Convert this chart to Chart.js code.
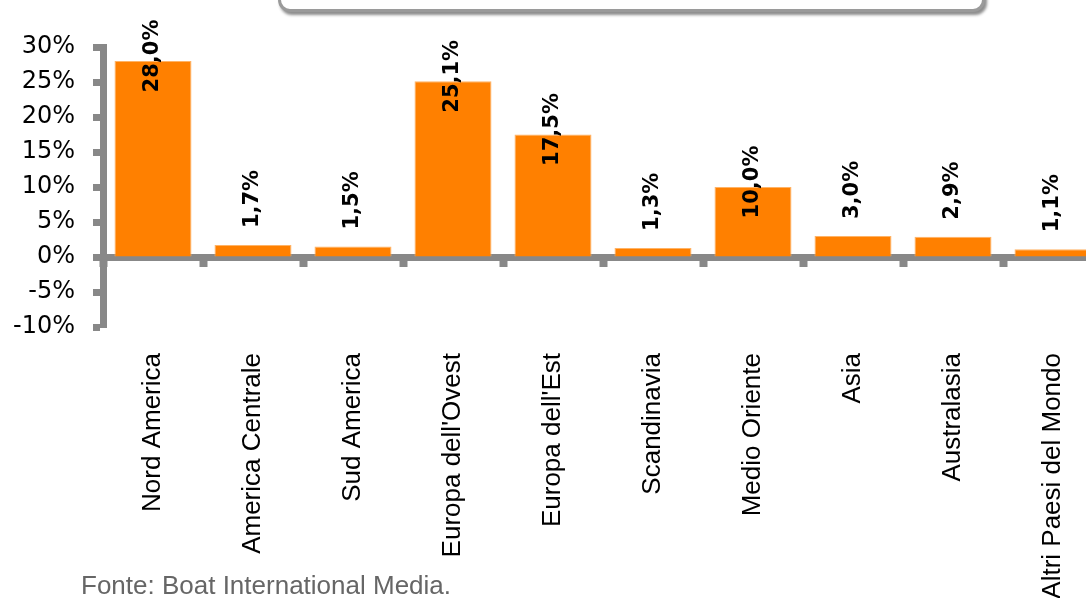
<!DOCTYPE html>
<html lang="it">
<head>
  <meta charset="UTF-8">
  <title>Yacht per area geografica</title>
  <script src="https://cdn.jsdelivr.net/npm/chart.js@4"></script>
  <style>
    html, body { margin: 0; padding: 0; background: #fff; overflow: hidden; }
    .wrap { position: relative; width: 1086px; height: 598px; overflow: hidden; }
    .chart-box { position: absolute; left: 0; top: 0; width: 1110px; height: 598px; }
    .title-box {
      position: absolute; left: 278px; top: -40px; width: 701px; height: 46px;
      border: 3px solid #9a9a9a; border-radius: 12px; background: #fff;
      box-shadow: 2px 3px 3px rgba(0,0,0,0.45); z-index: 2;
    }
    .source {
      position: absolute; left: 81px; top: 570px;
      font: 26px "Liberation Sans", Arial, sans-serif; color: #666;
    }
  </style>
</head>
<body>
  <div class="wrap">
    <div class="chart-box"><canvas id="areaChart"></canvas></div>
    <div class="title-box"></div>
    <div class="source">Fonte: Boat International Media.</div>
  </div>

  <script>
    // categories and values (percent)
    const areas = ['Nord America', 'America Centrale', 'Sud America', "Europa dell'Ovest", "Europa dell'Est",
                   'Scandinavia', 'Medio Oriente', 'Asia', 'Australasia', 'Altri Paesi del Mondo'];
    const shares = [28.0, 1.7, 1.5, 25.1, 17.5, 1.3, 10.0, 3.0, 2.9, 1.1];
    const yTicks = [-10, -5, 0, 5, 10, 15, 20, 25, 30];

    const fmt = v => v.toFixed(1).replace('.', ',') + '%';

    // vertical value labels over the bars
    const valueLabels = {
      id: 'valueLabels',
      afterDatasetsDraw(chart) {
        const ctx = chart.ctx;
        const meta = chart.getDatasetMeta(0);
        ctx.save();
        ctx.font = 'bold 21px "DejaVu Sans", Verdana, sans-serif';
        ctx.fillStyle = '#000';
        ctx.textBaseline = 'middle';
        meta.data.forEach((bar, i) => {
          const v = shares[i];
          ctx.save();
          ctx.translate(bar.x, bar.y);
          ctx.rotate(-Math.PI / 2);
          if (v < 5) {
            ctx.textAlign = 'left';
            ctx.fillText(fmt(v), 17, 0);
          } else {
            ctx.textAlign = 'center';
            ctx.fillText(fmt(v), 5, 0);
          }
          ctx.restore();
        });
        ctx.restore();
      }
    };

    new Chart(document.getElementById('areaChart'), {
      type: 'bar',
      data: {
        labels: areas,
        datasets: [{
          data: shares,
          backgroundColor: '#FF8000',
          borderColor: '#FFB366',
          borderWidth: 1,
          barPercentage: 0.77,
          categoryPercentage: 1
        }]
      },
      options: {
        responsive: true,
        maintainAspectRatio: false,
        animation: false,
        layout: { padding: { top: 47, left: 0, right: 7, bottom: 271 } },
        plugins: { legend: { display: false }, tooltip: { enabled: false } },
        scales: {
          x: {
            position: { y: 0 },
            z: 1,
            offset: true,
            afterFit: s => { s.paddingLeft = 0; s.paddingRight = 0; },
            grid: { drawOnChartArea: false, offset: true, tickLength: 6, tickWidth: 8, tickColor: '#888' },
            border: { display: true, width: 7, color: '#888' },
            ticks: {
              autoSkip: false, minRotation: 90, maxRotation: 90, padding: 90,
              color: '#000', font: { family: '"Liberation Sans", Arial, sans-serif', size: 26 }
            }
          },
          y: {
            min: -10,
            max: 30,
            afterBuildTicks: s => { s.ticks = yTicks.map(v => ({ value: v })); },
            afterFit: s => { s.width = 103; },
            grid: { drawOnChartArea: false, tickLength: 10, tickWidth: 7, tickColor: '#888' },
            border: { display: true, width: 7, color: '#888' },
            ticks: {
              padding: 18, color: '#000',
              font: { family: '"DejaVu Sans", Verdana, sans-serif', size: 24 },
              callback: v => v + '%'
            }
          }
        }
      },
      plugins: [valueLabels]
    });
  </script>
</body>
</html>
